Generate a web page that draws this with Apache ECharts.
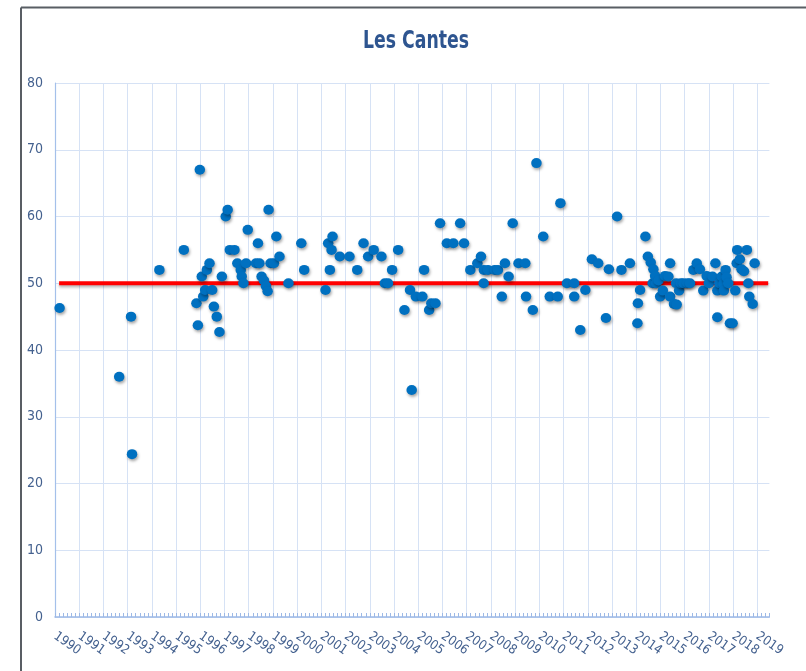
<!DOCTYPE html>
<html>
<head>
<meta charset="utf-8">
<script src="https://cdn.jsdelivr.net/npm/echarts@6/dist/echarts.min.js"></script>
<style>
html,body{margin:0;padding:0;background:#fff;}
#chart{width:806px;height:671px;}
</style>
</head>
<body>
<div id="chart"></div>
<script>
// ---- data (decimal year, value) ----
const years = [
  1990.19, 1992.65, 1993.14, 1993.18, 1994.31, 1995.32, 1995.84, 1995.90, 1995.98, 1996.06,
  1996.12, 1996.20, 1996.27, 1996.38, 1996.49, 1996.56, 1996.68, 1996.79, 1996.89, 1997.05,
  1997.13, 1997.22, 1997.41, 1997.53, 1997.67, 1997.71, 1997.78, 1997.89, 1997.96, 1998.30,
  1998.38, 1998.44, 1998.53, 1998.63, 1998.71, 1998.78, 1998.82, 1998.90, 1999.04, 1999.14,
  1999.27, 1999.64, 2000.17, 2000.29, 2001.17, 2001.28, 2001.35, 2001.42, 2001.46, 2001.76,
  2002.16, 2002.48, 2002.74, 2002.93, 2003.16, 2003.48, 2003.62, 2003.75, 2003.92, 2004.17,
  2004.43, 2004.66, 2004.73, 2004.90, 2005.17, 2005.24, 2005.45, 2005.54, 2005.71, 2005.90,
  2006.18, 2006.45, 2006.73, 2006.89, 2007.15, 2007.44, 2007.59, 2007.70, 2007.71, 2007.88,
  2008.16, 2008.29, 2008.45, 2008.58, 2008.73, 2008.90, 2009.14, 2009.42, 2009.45, 2009.73,
  2009.88, 2010.16, 2010.43, 2010.76, 2010.87, 2011.14, 2011.44, 2011.44, 2011.69, 2011.90,
  2012.17, 2012.43, 2012.75, 2012.87, 2013.21, 2013.39, 2013.74, 2014.05, 2014.07, 2014.16,
  2014.38, 2014.48, 2014.60, 2014.68, 2014.71, 2014.78, 2014.82, 2014.92, 2014.99, 2015.10,
  2015.19, 2015.33, 2015.40, 2015.40, 2015.56, 2015.65, 2015.67, 2015.77, 2015.84, 2015.95,
  2016.11, 2016.22, 2016.36, 2016.50, 2016.63, 2016.77, 2016.91, 2017.00, 2017.15, 2017.27,
  2017.35, 2017.35, 2017.43, 2017.53, 2017.60, 2017.62, 2017.69, 2017.73, 2017.80, 2017.87,
  2017.98, 2018.09, 2018.15, 2018.17, 2018.28, 2018.35, 2018.45, 2018.57, 2018.63, 2018.67,
  2018.81, 2018.89
];
const values = [
  46.3, 36, 45, 24.4, 52, 55, 47, 43.7, 67, 51,
  48, 49, 52, 53, 49, 46.5, 45, 42.7, 51, 60,
  61, 55, 55, 53, 52, 51, 50, 53, 58, 53,
  56, 53, 51, 50.4, 49.6, 48.8, 61, 53, 53, 57,
  54, 50, 56, 52, 49, 56, 52, 55, 57, 54,
  54, 52, 56, 54, 55, 54, 50, 50, 52, 55,
  46, 49, 34, 48, 48, 52, 46, 47, 47, 59,
  56, 56, 59, 56, 52, 53, 54, 50, 52, 52,
  52, 52, 48, 53, 51, 59, 53, 53, 48, 46,
  68, 57, 48, 48, 62, 50, 50, 48, 43, 49,
  53.6, 53, 44.8, 52.1, 60, 52, 53, 44, 47, 49,
  57, 54, 53.1, 50, 52.1, 51.1, 50, 50.4, 48, 48.9,
  51.1, 51, 53, 48, 46.9, 50, 46.8, 48.9, 50, 50,
  50, 50, 52, 53, 52.1, 48.9, 51.1, 50, 51, 53,
  44.9, 48.9, 50, 51, 49.9, 48.9, 52, 50.9, 50, 44,
  44, 48.9, 53, 55, 53.6, 52.1, 51.8, 55, 50, 48,
  46.9, 53
];
// reference line at 50
const refYears = [1990.17, 2019.45];
const refValues = [50, 50];
// axes
const xFirstYear = 1990;
const xLastYear = 2019;
const xAxisEnd = 2019.5;
const yMin = 0, yMax = 80, yStep = 10;
const titleText = 'Les Cantes';

// ---- layout ----
const W = 806;
const plotLeft = 55, plotRight = 769.4, plotTop = 83, plotBottom = 617;
const pxPerYear = (plotRight - plotLeft) / (xAxisEnd - xFirstYear);
const gridBRight = plotLeft + (xLastYear - xFirstYear) * pxPerYear;

const labelFont = 'DejaVu Sans Condensed, DejaVu Sans, sans-serif';
const labelColor = '#44618F';
const gridColor = '#D6E2F5';
const axisColor = '#A4C0EA';

const chart = echarts.init(document.getElementById('chart'), null, {renderer: 'canvas'});
chart.setOption({
  animation: false,
  backgroundColor: '#ffffff',
  grid: [
    {left: plotLeft, right: W - plotRight, top: plotTop, bottom: 671 - plotBottom, outerBoundsMode: 'none'},
    {left: plotLeft, right: W - gridBRight, top: plotTop, bottom: 671 - plotBottom, outerBoundsMode: 'none'}
  ],
  xAxis: [
    {
      gridIndex: 0, type: 'value', min: xFirstYear, max: xAxisEnd, interval: 0.5,
      axisLine: {show: true, onZero: false, lineStyle: {color: '#9DB9E6', width: 1.5}},
      axisTick: {show: true, inside: true, length: 4, lineStyle: {color: '#9DB9E6', width: 1}},
      minorTick: {show: true, splitNumber: 3, length: 4, lineStyle: {color: '#9DB9E6', width: 1}},
      axisLabel: {show: false},
      splitLine: {show: false}
    },
    {
      gridIndex: 1, type: 'value', min: xFirstYear, max: xLastYear, interval: 1,
      axisLine: {show: false},
      axisTick: {show: false},
      splitLine: {show: true, lineStyle: {color: gridColor, width: 1}},
      axisLabel: {
        show: true, rotate: -35, margin: 18,
        fontFamily: labelFont, fontSize: 13, color: labelColor,
        formatter: v => String(Math.round(v))
      }
    }
  ],
  yAxis: [
    {
      gridIndex: 0, type: 'value', min: yMin, max: yMax, interval: yStep,
      axisLine: {show: true, lineStyle: {color: axisColor, width: 1.2}},
      axisTick: {show: false},
      splitLine: {show: true, lineStyle: {color: gridColor, width: 1}},
      axisLabel: {margin: 12, fontFamily: labelFont, fontSize: 14, color: labelColor}
    },
    {gridIndex: 1, type: 'value', min: yMin, max: yMax, show: false, splitLine: {show: false}}
  ],
  series: [
    {
      type: 'line', xAxisIndex: 0, yAxisIndex: 0, z: 2,
      data: refYears.map((y, i) => [y, refValues[i]]),
      symbol: 'none',
      lineStyle: {color: '#FF0000', width: 4, opacity: 1, shadowColor: 'rgba(0,0,0,0.3)', shadowBlur: 3, shadowOffsetY: 2},
      silent: true
    },
    {
      type: 'scatter', xAxisIndex: 0, yAxisIndex: 0, z: 3,
      data: years.map((y, i) => [y, values[i]]),
      symbol: 'circle',
      symbolSize: [10.5, 10],
      itemStyle: {color: '#0070C0', opacity: 1, shadowColor: 'rgba(0,0,0,0.35)', shadowBlur: 3, shadowOffsetX: 1, shadowOffsetY: 2}
    }
  ],
  graphic: [
    {
      type: 'text', x: 416, y: 30, scaleX: 0.8, z: 100,
      style: {
        text: titleText, textAlign: 'center', textVerticalAlign: 'top',
        fontFamily: 'DejaVu Sans Condensed, DejaVu Sans, sans-serif', fontWeight: 'bold', fontSize: 24,
        fill: '#2E5590'
      }
    },
    {type: 'line', shape: {x1: 21, y1: 7.5, x2: 806, y2: 7.5}, style: {stroke: '#595E64', lineWidth: 2}, z: 100},
    {type: 'line', shape: {x1: 21, y1: 7.5, x2: 21, y2: 671}, style: {stroke: '#595E64', lineWidth: 2}, z: 100}
  ]
});
</script>
</body>
</html>
